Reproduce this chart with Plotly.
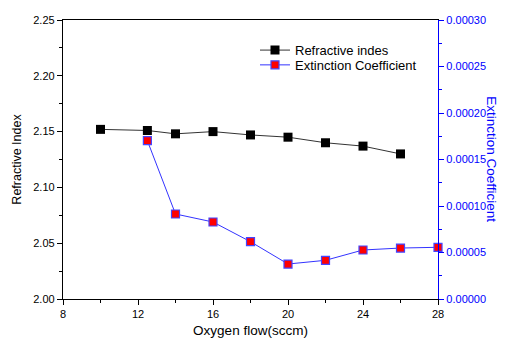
import plotly.graph_objects as go

oxygen_ri = [10, 12.5, 14, 16, 18, 20, 22, 24, 26]
refractive_index = [2.152, 2.151, 2.148, 2.150, 2.147, 2.145, 2.140, 2.137, 2.130]

oxygen_ext = [12.5, 14, 16, 18, 20, 22, 24, 26, 28]
extinction = [0.0001702, 0.0000914, 0.0000828, 0.0000616, 0.0000376, 0.0000416, 0.0000527, 0.0000548, 0.0000556]

x_ticks = [8, 12, 16, 20, 24, 28]
y_ticks = [2.00, 2.05, 2.10, 2.15, 2.20, 2.25]
y2_ticks = [0.0, 0.00005, 0.00010, 0.00015, 0.00020, 0.00025, 0.00030]

FONT = "Liberation Sans, Arial, sans-serif"

fig = go.Figure()
fig.add_trace(go.Scatter(
    x=oxygen_ri, y=refractive_index, name="Refractive indes",
    mode="lines+markers", legend="legend",
    line=dict(color="#333333", width=1),
    marker=dict(symbol="square", size=9, color="black", line=dict(color="black", width=0)),
))
fig.add_trace(go.Scatter(
    x=oxygen_ext, y=extinction, name="Extinction Coefficient", yaxis="y2",
    mode="lines+markers", legend="legend2",
    line=dict(color="#3333ff", width=1),
    marker=dict(symbol="square", size=8, color="red", line=dict(color="#4444ff", width=1.2)),
    cliponaxis=False,
))

leg_common = dict(xanchor="left", yanchor="middle", bgcolor="rgba(0,0,0,0)",
                  font=dict(size=13), itemwidth=30)

# page body has an 8px default margin, so the figure is sized to fit the window
fig.update_layout(
    width=499, height=333,
    margin=dict(l=55, r=69, t=12, b=42, autoexpand=False),
    paper_bgcolor="white", plot_bgcolor="white",
    font=dict(family=FONT, size=11, color="black"),
    showlegend=True,
    legend=dict(x=0.512, y=0.892, **leg_common),
    legend2=dict(x=0.512, y=0.839, **leg_common),
    xaxis=dict(
        range=[8, 28], tickvals=x_ticks, ticktext=[str(v) for v in x_ticks],
        showgrid=False, zeroline=False, showline=True, linecolor="black", linewidth=1.3,
        mirror=True, ticks="outside", ticklen=5, tickcolor="black", automargin=False,
        minor=dict(ticks="outside", dtick=2, ticklen=3, tickcolor="black", showgrid=False),
        title=dict(text="Oxygen flow(sccm)", font=dict(size=13.5), standoff=6),
    ),
    yaxis=dict(
        range=[2.0, 2.25], tickvals=y_ticks, ticktext=[f"{v:.2f}" for v in y_ticks],
        showgrid=False, zeroline=False, showline=True, linecolor="black", linewidth=1.3,
        ticks="outside", ticklen=5, tickcolor="black", automargin=False,
        minor=dict(ticks="outside", dtick=0.025, ticklen=3, tickcolor="black", showgrid=False),
        title=dict(text="Refractive Index", font=dict(size=12.5), standoff=8),
    ),
    yaxis2=dict(
        range=[0, 0.0003], overlaying="y", side="right", anchor="x",
        tickvals=y2_ticks, ticktext=[f"{v:.5f}" for v in y2_ticks],
        showgrid=False, zeroline=False, showline=True, linecolor="blue", linewidth=1.3,
        ticks="outside", ticklen=5, tickcolor="blue", tickfont=dict(color="blue"), automargin=False,
        minor=dict(ticks="outside", dtick=0.000025, ticklen=3, tickcolor="blue", showgrid=False),
    ),
    annotations=[dict(
        text="Extinction Coefficient", xref="paper", yref="paper", x=1.142, y=0.5,
        textangle=90, showarrow=False, font=dict(size=13.5, color="blue"),
        xanchor="center", yanchor="middle",
    )],
)

fig.write_html("out.html")
